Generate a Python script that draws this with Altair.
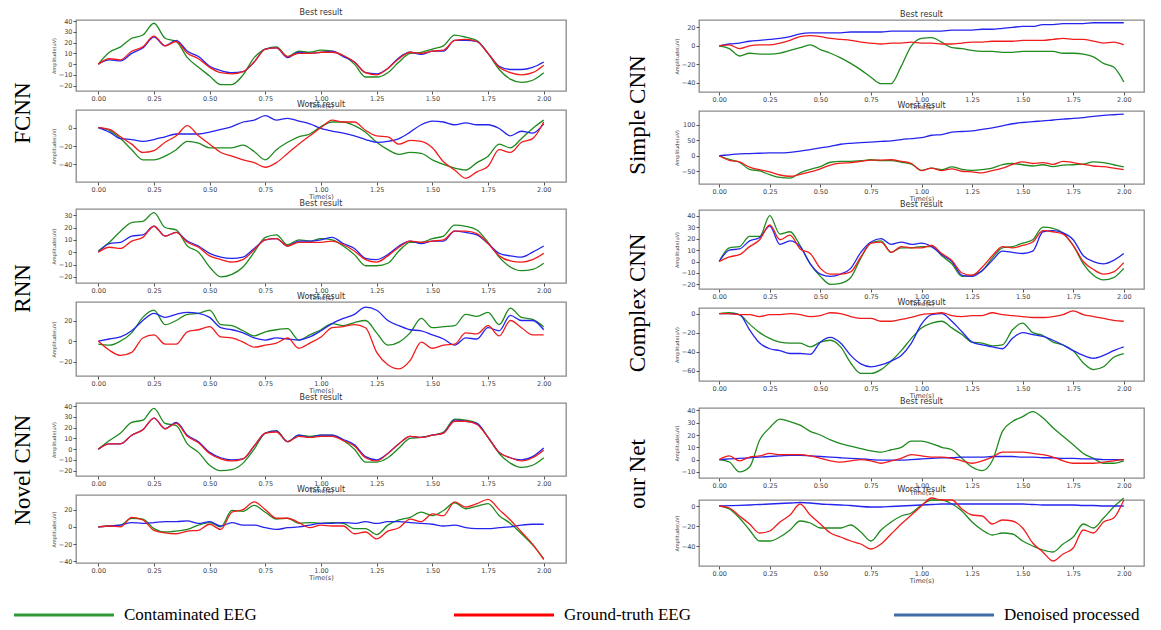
import altair as alt
import pandas as pd

TIME = [0.00, 0.05, 0.10, 0.15, 0.20, 0.25, 0.30, 0.35, 0.40, 0.45,
        0.50, 0.55, 0.60, 0.65, 0.70, 0.75, 0.80, 0.85, 0.90, 0.95,
        1.00, 1.05, 1.10, 1.15, 1.20, 1.25, 1.30, 1.35, 1.40, 1.45,
        1.50, 1.55, 1.60, 1.65, 1.70, 1.75, 1.80, 1.85, 1.90, 1.95, 2.00]
X_TICKS = [0.0, 0.25, 0.5, 0.75, 1.0, 1.25, 1.5, 1.75, 2.0]

SERIES = ["Contaminated EEG", "Ground-truth EEG", "Denoised processed"]
COLORS = ["#1f8a1f", "#f01c1c", "#2424ee"]
LEGEND_COLORS = ["#2f9a35", "#ff0000", "#3f6ea6"]

# ---------------- FCNN ----------------
FCNN_BEST_CONTAMINATED = [0, 11, 16, 24, 27, 38, 24, 21, 6, -3, -11, -19, -19, -10, 6, 14, 16, 7, 12, 11,
                          13, 12, 8, 0, -12, -12, -8, 2, 10, 11, 14, 17, 27, 25, 22, 10, -5, -14, -17, -15, -8]
FCNN_BEST_TRUTH = [0, 5, 4, 12, 16, 26, 17, 21, 10, 5, -3, -8, -9, -7, 2, 14, 15, 7, 10, 10,
                   11, 11, 8, 2, -8, -10, -4, 5, 11, 10, 12, 13, 22, 23, 21, 10, -3, -8, -10, -8, -1]
FCNN_BEST_DENOISED = [0, 4, 3, 10, 15, 25, 17, 22, 12, 7, -2, -6, -8, -7, 2, 14, 15, 6, 11, 10,
                      11, 12, 7, 2, -8, -9, -4, 6, 11, 9, 12, 12, 22, 22, 21, 10, -2, -5, -5, -3, 2]
FCNN_WORST_CONTAMINATED = [0, -3, -12, -24, -35, -35, -31, -24, -15, -17, -22, -22, -22, -19, -26, -35, -24, -16, -10, -7,
                           1, 6, 6, 2, -5, -16, -24, -29, -27, -28, -35, -40, -44, -46, -38, -31, -18, -22, -12, -1, 8]
FCNN_WORST_TRUTH = [0, -2, -10, -18, -27, -25, -16, -9, 2, -9, -18, -27, -31, -35, -38, -43, -38, -28, -18, -9,
                    0, 8, 6, 6, -3, -9, -10, -18, -14, -15, -22, -37, -46, -55, -48, -42, -24, -27, -16, -12, 6]
FCNN_WORST_DENOISED = [0, -5, -12, -13, -15, -13, -10, -7, -7, -7, -5, -2, 1, 6, 8, 13, 8, 10, 7, 4,
                       -1, -4, -6, -9, -13, -16, -15, -12, -5, 3, 7, 6, 3, 5, 3, 3, -1, -9, -4, -6, 4]

# ---------------- RNN ----------------
RNN_BEST_CONTAMINATED = [1, 8, 17, 24, 25, 32, 20, 18, 5, 0, -12, -20, -18, -12, 0, 12, 14, 6, 10, 9,
                         11, 10, 5, -2, -11, -11, -9, 1, 8, 8, 11, 13, 22, 21, 18, 8, -4, -12, -15, -14, -9]
RNN_BEST_TRUTH = [0, 4, 3, 9, 12, 21, 13, 16, 8, 4, -3, -6, -8, -6, 2, 10, 11, 5, 8, 8,
                  8, 9, 6, 1, -6, -8, -3, 4, 9, 8, 9, 10, 17, 17, 15, 7, -3, -7, -8, -6, -1]
RNN_BEST_DENOISED = [0, 7, 8, 13, 14, 21, 13, 16, 9, 5, -1, -4, -5, -4, 3, 10, 11, 5, 9, 9,
                     10, 12, 7, 3, -5, -6, -2, 5, 9, 7, 9, 9, 17, 16, 14, 7, -1, -3, -4, 0, 5]
RNN_WORST_CONTAMINATED = [-3, -4, 0, 8, 23, 30, 16, 20, 26, 27, 30, 16, 15, 10, 5, 9, 11, 12, 1, 6,
                          11, 17, 15, 18, 20, 8, -4, -1, 8, 22, 13, 14, 15, 26, 24, 28, 16, 32, 23, 21, 14]
RNN_WORST_TRUTH = [0, -9, -14, -11, 3, 6, -3, -3, 9, 11, 14, 4, 3, -1, -6, -4, -2, 3, -7, -2,
                   4, 13, 14, 16, 13, -11, -23, -27, -19, -1, -7, -4, -3, 8, 7, 15, 5, 20, 13, 6, 6]
RNN_WORST_DENOISED = [0, 2, 4, 10, 20, 27, 23, 26, 28, 27, 23, 13, 11, 8, 3, 1, 3, 2, 1, 4,
                      10, 17, 22, 26, 33, 30, 20, 15, 11, 10, 6, 2, -4, 3, 2, 13, 10, 25, 20, 20, 11]

# ---------------- Novel CNN ----------------
NOVEL_BEST_CONTAMINATED = [0, 8, 15, 25, 27, 38, 24, 22, 5, -3, -15, -20, -19, -13, 0, 15, 17, 7, 13, 12,
                           13, 13, 8, 0, -12, -12, -8, 1, 10, 11, 13, 16, 28, 27, 24, 11, -4, -13, -17, -15, -8]
NOVEL_BEST_TRUTH = [0, 5, 5, 13, 18, 29, 19, 24, 12, 6, -4, -9, -11, -9, 3, 15, 16, 7, 12, 11,
                    12, 12, 8, 3, -8, -11, -4, 5, 12, 11, 13, 15, 26, 26, 23, 11, -3, -8, -11, -8, -1]
NOVEL_BEST_DENOISED = [0, 5, 5, 13, 18, 29, 19, 25, 13, 7, -3, -8, -10, -9, 3, 15, 17, 7, 13, 11,
                       13, 13, 9, 4, -7, -10, -4, 5, 12, 11, 13, 15, 27, 26, 24, 11, -3, -8, -10, -7, 1]
NOVEL_WORST_CONTAMINATED = [0, 1, 2, 10, 9, -2, -6, -5, -3, 2, 5, 0, 19, 18, 25, 17, 9, 10, 4, 5,
                            4, 5, 4, -2, -2, -9, 2, 8, 11, 17, 13, 19, 28, 21, 24, 27, 13, 4, -8, -21, -37]
NOVEL_WORST_TRUTH = [0, 1, 0, 11, 8, -4, -7, -8, -5, -4, 3, -3, 17, 20, 29, 20, 10, 10, 5, -1,
                     2, 1, 1, -8, -6, -14, -5, -1, 9, 6, 15, 13, 29, 23, 27, 32, 20, 8, -6, -20, -38]
NOVEL_WORST_DENOISED = [0, 1, 2, 5, 4, 5, 6, 6, 7, 4, 6, 1, 5, 2, 2, -1, -3, -1, 0, 2,
                        4, 4, 5, 4, 6, 4, 6, 6, 5, 4, 3, 1, 2, -1, -2, -2, -1, 0, 2, 3, 3]

# ---------------- Simple CNN ----------------
SIMPLE_BEST_CONTAMINATED = [0, -3, -11, -8, -9, -9, -8, -5, -2, 1, -4, -8, -13, -19, -26, -34, -41, -41, -22, 0,
                            8, 9, 4, -2, -3, -5, -6, -6, -7, -7, -6, -6, -6, -6, -8, -8, -9, -12, -19, -23, -39]
SIMPLE_BEST_TRUTH = [0, 1, -3, 0, 1, 1, 3, 6, 10, 11, 10, 8, 7, 6, 4, 3, 2, 3, 3, 4,
                     3, 3, 2, 2, 3, 4, 4, 5, 5, 5, 6, 6, 6, 7, 8, 7, 7, 5, 3, 4, 1]
SIMPLE_BEST_DENOISED = [0, 2, 3, 5, 6, 7, 8, 10, 13, 14, 14, 14, 14, 15, 15, 15, 15, 16, 16, 16,
                        16, 16, 16, 17, 17, 17, 18, 18, 19, 20, 21, 21, 23, 23, 24, 24, 24, 25, 25, 25, 25]
SIMPLE_WORST_CONTAMINATED = [0, -12, -21, -44, -49, -61, -70, -72, -55, -44, -35, -21, -18, -18, -16, -13, -16, -16, -21, -27,
                             -47, -40, -45, -36, -44, -47, -45, -40, -29, -25, -29, -33, -29, -35, -30, -29, -27, -20, -22, -29, -36]
SIMPLE_WORST_TRUTH = [0, -15, -20, -37, -45, -52, -62, -66, -60, -52, -42, -30, -24, -22, -18, -14, -14, -13, -18, -25,
                      -48, -40, -48, -42, -50, -52, -55, -48, -40, -28, -20, -25, -22, -28, -18, -22, -28, -33, -35, -40, -45]
SIMPLE_WORST_DENOISED = [0, 3, 6, 7, 8, 9, 9, 11, 15, 20, 25, 30, 37, 40, 42, 44, 46, 48, 52, 55,
                         58, 66, 68, 76, 78, 80, 85, 90, 96, 103, 107, 110, 112, 115, 118, 120, 123, 127, 130, 132, 134]

# ---------------- Complex CNN ----------------
COMPLEX_BEST_CONTAMINATED = [0, 12, 13, 22, 22, 40, 24, 26, 14, -2, -13, -20, -19, -14, 3, 16, 18, 8, 12, 12,
                             13, 13, 5, -2, -13, -12, -8, 3, 12, 13, 16, 19, 30, 29, 25, 14, -2, -12, -16, -14, -6]
COMPLEX_BEST_TRUTH = [0, 4, 6, 13, 19, 32, 19, 23, 11, 7, -6, -11, -11, -9, 4, 16, 17, 8, 13, 12,
                      12, 14, 7, 1, -10, -12, -5, 5, 13, 12, 14, 17, 27, 26, 24, 14, 0, -7, -11, -9, -1]
COMPLEX_BEST_DENOISED = [0, 10, 11, 18, 21, 31, 15, 18, 13, -2, -11, -13, -11, -6, 8, 17, 20, 15, 17, 15,
                         16, 13, 6, 0, -12, -13, -8, 1, 9, 8, 7, 9, 26, 27, 25, 19, 5, 0, -2, 1, 7]
COMPLEX_WORST_CONTAMINATED = [0, 1, -1, -11, -20, -26, -30, -31, -31, -35, -30, -28, -35, -52, -63, -63, -59, -50, -39, -26,
                              -15, -10, -8, -15, -22, -30, -31, -34, -33, -17, -10, -20, -23, -30, -33, -39, -52, -59, -56, -46, -42]
COMPLEX_WORST_TRUTH = [0, 0, -1, -1, -3, -1, -1, 0, -1, -3, -2, 1, 0, -3, -5, -5, -8, -8, -6, -4,
                       -1, 0, 1, -2, -3, -2, -2, 1, -1, -2, -3, -4, -4, -3, -1, 3, -1, -3, -5, -7, -8]
COMPLEX_WORST_DENOISED = [0, 0, -1, -17, -31, -37, -39, -42, -42, -43, -30, -25, -31, -44, -53, -56, -54, -50, -44, -31,
                          -11, -1, 0, -8, -19, -30, -33, -35, -37, -26, -20, -22, -24, -28, -33, -39, -44, -47, -44, -39, -35]

# ---------------- our Net ----------------
OURNET_BEST_CONTAMINATED = [0, -2, -10, -6, 16, 26, 33, 31, 28, 23, 20, 16, 13, 11, 9, 7, 6, 8, 10, 15,
                            15, 13, 10, 8, 1, -6, -9, -1, 23, 31, 35, 39, 34, 26, 19, 12, 5, 1, -3, -3, -1]
OURNET_BEST_TRUTH = [0, 3, -1, 2, 3, 5, 4, 4, 4, 3, 1, -1, -2, -1, 0, -1, -3, -1, 1, 4,
                     3, 2, 2, 1, -1, -3, -1, 2, 6, 6, 6, 5, 4, 2, -1, -3, -3, -3, -2, -1, 0]
OURNET_BEST_DENOISED = [0, 0.5, 1, 1.5, 2, 2.5, 3, 3.5, 3.5, 3, 2.5, 2, 1.5, 1, 0.5, 0, -0.5, -0.5, -0.5, 0,
                        0.5, 1, 1.5, 1.5, 2, 2, 2, 2.5, 2.5, 2.5, 2, 2, 1.5, 1.5, 1, 1, 0.5, 0.5, 0, 0, 0]
OURNET_WORST_CONTAMINATED = [0, -3, -12, -24, -35, -35, -31, -24, -15, -17, -22, -22, -22, -19, -26, -35, -24, -16, -10, -7,
                             1, 6, 6, 2, -5, -16, -24, -29, -27, -28, -35, -40, -44, -46, -38, -31, -18, -22, -12, -1, 8]
OURNET_WORST_TRUTH = [0, -2, -10, -18, -27, -25, -16, -9, 2, -9, -18, -27, -31, -35, -38, -43, -38, -28, -18, -9,
                      0, 8, 6, 6, -3, -9, -10, -18, -14, -15, -22, -37, -46, -55, -48, -42, -24, -27, -16, -12, 6]
OURNET_WORST_DENOISED = [0, 0.3, 0.6, 1, 1.5, 2, 2.5, 3, 3.5, 3, 2, 1.5, 1, 0.5, -0.5, -1, -1, -0.5, 0, 0.5,
                         1, 1.5, 2, 2, 2, 2, 2, 2, 2, 2, 2, 1.5, 1, 1, 1, 1, 0.5, 0.5, 0, 0, 0]

NB = "\u00a0"     # non-breaking space (shifts the centred rotated label)
ZW = "\u200b"     # zero-width space keeps the padding from being trimmed


def panel(contam, truth, denoised, title, ydomain, yticks, w, h):
    rows = []
    for name, vals in zip(SERIES, [contam, truth, denoised]):
        assert len(vals) == len(TIME), (title, name, len(vals))
        for t, v in zip(TIME, vals):
            rows.append({"t": t, "v": v, "series": name})
    df = pd.DataFrame(rows)
    base = alt.Chart(df).encode(
        x=alt.X("t:Q", scale=alt.Scale(domain=[-0.1, 2.1], nice=False, zero=False),
                axis=alt.Axis(values=X_TICKS, format=".2f", title="Time(s)", labelFlush=False)),
        y=alt.Y("v:Q", scale=alt.Scale(domain=ydomain, nice=False, zero=False),
                axis=alt.Axis(values=yticks, title="Amplitude(uV)")),
        color=alt.Color("series:N", scale=alt.Scale(domain=SERIES, range=COLORS), legend=None),
    )
    layers = [
        base.transform_filter(alt.datum.series == s).mark_line(strokeWidth=1.3, interpolate="monotone")
        for s in [SERIES[0], SERIES[2], SERIES[1]]
    ]
    return alt.layer(*layers).properties(
        width=w, height=h,
        title=alt.TitleParams(title, anchor="middle", fontSize=8, offset=1,
                              font="DejaVu Sans", fontWeight="normal", color="#333"),
    )


def group(name, best, worst, spacing, lead, trail, offset):
    label = name
    if lead:
        label = ZW + NB * lead + label
    if trail:
        label = label + NB * trail + ZW
    return alt.vconcat(
        best, worst, spacing=spacing,
        title=alt.TitleParams(label, orient="left", anchor="middle", font="Liberation Serif",
                              fontSize=23, fontWeight="normal", color="black", offset=offset),
    )


LW, RW = 490, 445

left = alt.vconcat(
    group("FCNN",
          panel(FCNN_BEST_CONTAMINATED, FCNN_BEST_TRUTH, FCNN_BEST_DENOISED, "Best result",
                [-25, 41], [-20, -10, 0, 10, 20, 30, 40], LW, 71),
          panel(FCNN_WORST_CONTAMINATED, FCNN_WORST_TRUTH, FCNN_WORST_DENOISED, "Worst result",
                [-59, 19], [-40, -20, 0], LW, 72), -12, 0, 3, 16),
    group("RNN",
          panel(RNN_BEST_CONTAMINATED, RNN_BEST_TRUTH, RNN_BEST_DENOISED, "Best result",
                [-25, 35], [-20, -10, 0, 10, 20, 30], LW, 74),
          panel(RNN_WORST_CONTAMINATED, RNN_WORST_TRUTH, RNN_WORST_DENOISED, "Worst result",
                [-34, 38], [-20, 0, 20], LW, 74), -12, 3, 0, 16),
    group("Novel CNN",
          panel(NOVEL_BEST_CONTAMINATED, NOVEL_BEST_TRUTH, NOVEL_BEST_DENOISED, "Best result",
                [-25, 43], [-20, -10, 0, 10, 20, 30, 40], LW, 73),
          panel(NOVEL_WORST_CONTAMINATED, NOVEL_WORST_TRUTH, NOVEL_WORST_DENOISED, "Worst result",
                [-42, 37], [-40, -20, 0, 20], LW, 68), -12, 6, 0, 16),
    spacing=-2,
)

right = alt.vconcat(
    group("Simple CNN",
          panel(SIMPLE_BEST_CONTAMINATED, SIMPLE_BEST_TRUTH, SIMPLE_BEST_DENOISED, "Best result",
                [-50, 28], [-40, -20, 0, 20], RW, 72),
          panel(SIMPLE_WORST_CONTAMINATED, SIMPLE_WORST_TRUTH, SIMPLE_WORST_DENOISED, "Worst result",
                [-91, 144], [-50, 0, 50, 100], RW, 73), -12, 0, 3, 24),
    group("Complex CNN",
          panel(COMPLEX_BEST_CONTAMINATED, COMPLEX_BEST_TRUTH, COMPLEX_BEST_DENOISED, "Best result",
                [-24, 45], [-20, -10, 0, 10, 20, 30, 40], RW, 79),
          panel(COMPLEX_WORST_CONTAMINATED, COMPLEX_WORST_TRUTH, COMPLEX_WORST_DENOISED, "Worst result",
                [-71, 6], [-60, -40, -20, 0], RW, 73), -12, 0, 1, 24),
    group("our Net",
          panel(OURNET_BEST_CONTAMINATED, OURNET_BEST_TRUTH, OURNET_BEST_DENOISED, "Best result",
                [-15, 42], [-10, 0, 10, 20, 30, 40], RW, 70),
          panel(OURNET_WORST_CONTAMINATED, OURNET_WORST_TRUTH, OURNET_WORST_DENOISED, "Worst result",
                [-60, 6], [-40, -20, 0], RW, 66), -12, 6, 0, 24),
    spacing=-3,
)

panels = alt.hconcat(left, right, spacing=59)

legend_df = pd.DataFrame({"series": SERIES})
legend_base = alt.Chart(legend_df).encode(
    x=alt.X("series:N", scale=alt.Scale(type="point", domain=SERIES, padding=0), axis=None),
)
legend_lines = legend_base.mark_point(
    shape="M-2,0H2", size=2500, strokeWidth=3, filled=False, opacity=1, xOffset=-12
).encode(color=alt.Color("series:N", scale=alt.Scale(domain=SERIES, range=LEGEND_COLORS), legend=None))
legend_text = legend_base.mark_text(
    align="left", baseline="middle", xOffset=48, font="Liberation Serif", fontSize=17, color="black"
).encode(text="series:N")
legend_chart = alt.layer(legend_lines, legend_text).properties(
    width=880, height=16, view=alt.ViewBackground(strokeOpacity=0)
)

chart = alt.vconcat(panels, legend_chart, spacing=21).resolve_scale(color="independent").properties(
    padding={"left": 0, "top": 0, "right": 0, "bottom": 0}
).configure_view(
    stroke="#8a8a8a", strokeWidth=1.3
).configure_axis(
    grid=False, domain=False, tickColor="#555", tickSize=3,
    labelFont="DejaVu Sans", labelFontSize=6.5, labelColor="#444", labelPadding=1,
    titleFont="DejaVu Sans", titleFontSize=6.5, titleFontWeight="normal", titleColor="#444", titlePadding=1,
).configure_axisY(
    titleFontSize=5, titlePadding=2,
)

chart.save("out.html", embed_options={"renderer": "svg", "actions": False})
